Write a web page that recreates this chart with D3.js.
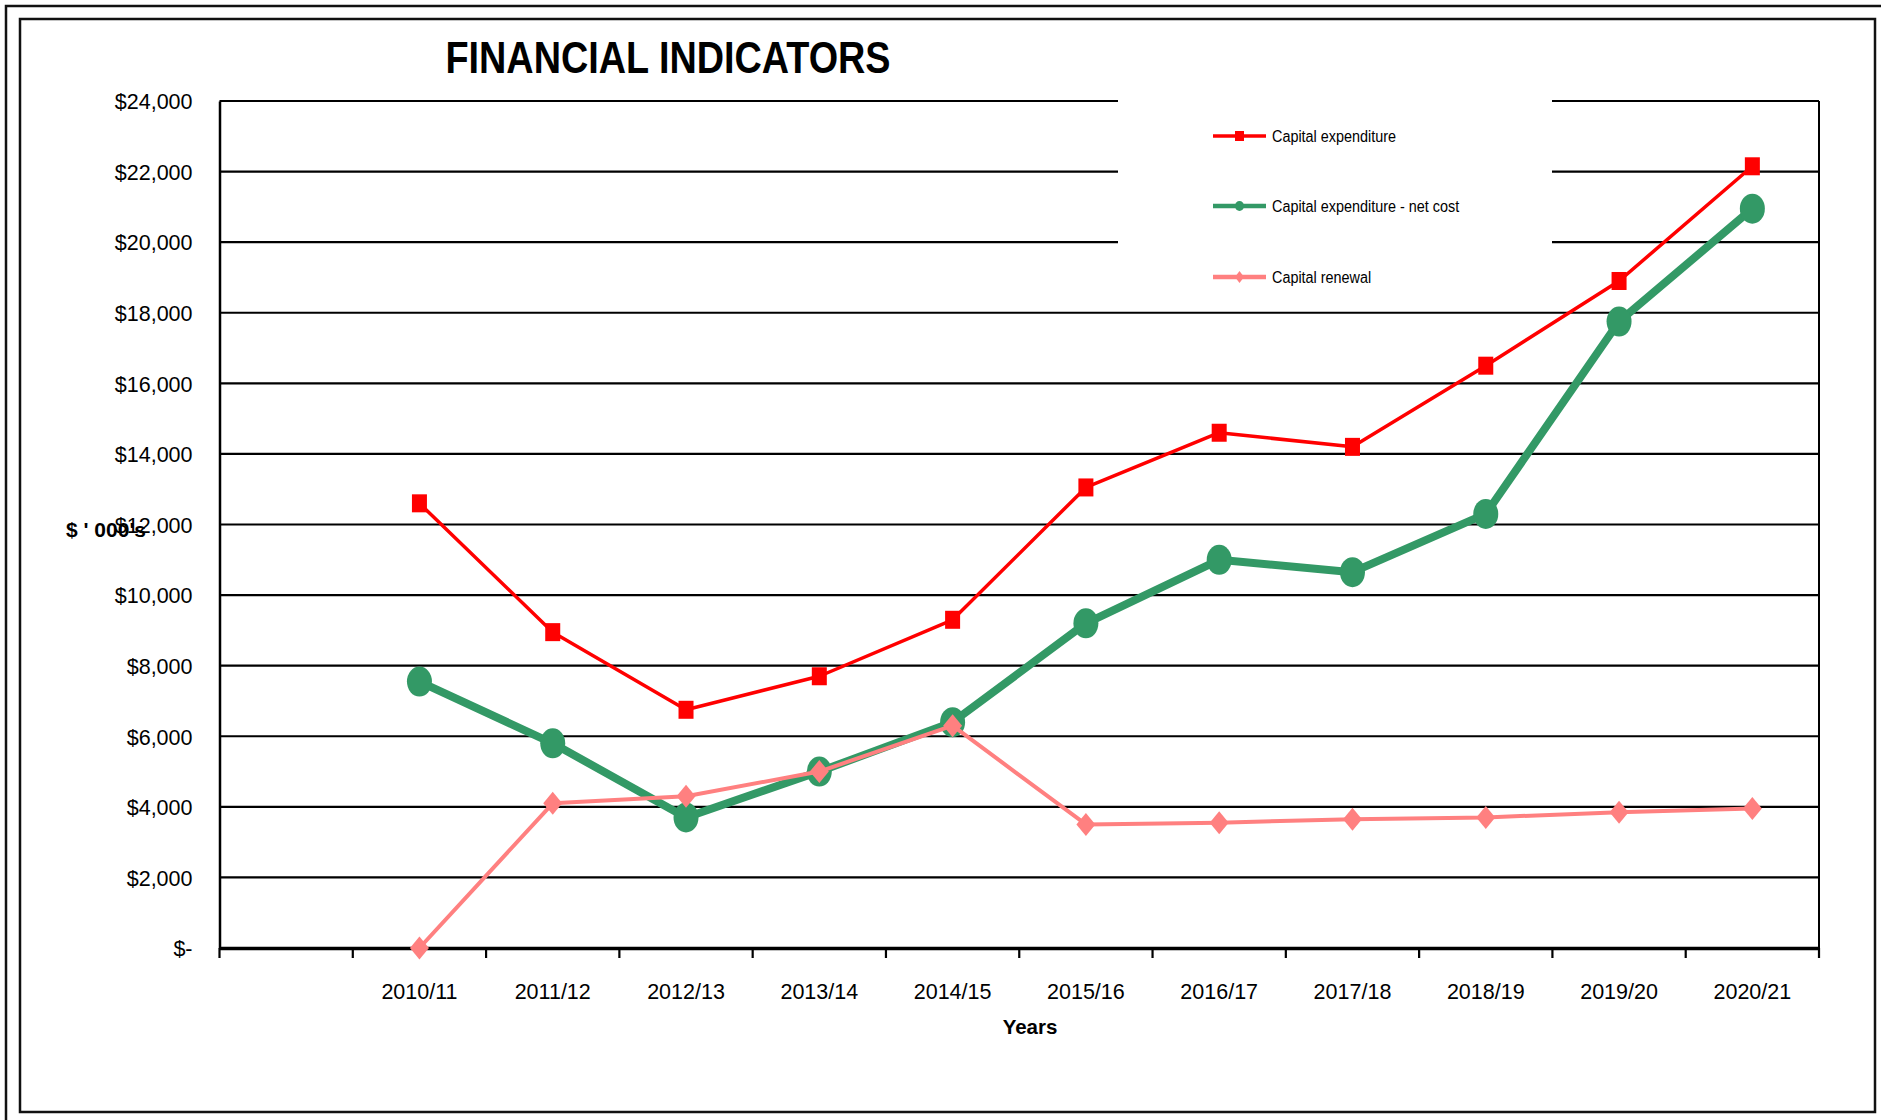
<!DOCTYPE html>
<html>
<head>
<meta charset="utf-8">
<script src="https://cdn.jsdelivr.net/npm/d3@7"></script>
<style>
  html, body { margin: 0; padding: 0; background: #fff; }
  svg { display: block; }
  text { font-family: "Liberation Sans", Arial, sans-serif; fill: #000; }
</style>
</head>
<body>
<svg id="chart" width="1881" height="1120"></svg>
<script>
// ---------- data ----------
const categories = ["", "2010/11", "2011/12", "2012/13", "2013/14", "2014/15", "2015/16", "2016/17", "2017/18", "2018/19", "2019/20", "2020/21"];
const years = ["2010/11", "2011/12", "2012/13", "2013/14", "2014/15", "2015/16", "2016/17", "2017/18", "2018/19", "2019/20", "2020/21"];
const capitalExpenditure = [12600, 8950, 6750, 7700, 9300, 13050, 14600, 14200, 16500, 18900, 22150];
const capitalNetCost = [7550, 5800, 3700, 5000, 6400, 9200, 11000, 10650, 12300, 17750, 20950];
const capitalRenewal = [0, 4100, 4300, 5000, 6300, 3500, 3550, 3650, 3700, 3850, 3950];
const yTickValues = [0, 2000, 4000, 6000, 8000, 10000, 12000, 14000, 16000, 18000, 20000, 22000, 24000];
const yTickLabels = ["$-", "$2,000", "$4,000", "$6,000", "$8,000", "$10,000", "$12,000", "$14,000", "$16,000", "$18,000", "$20,000", "$22,000", "$24,000"];
const seriesNames = ["Capital expenditure", "Capital expenditure - net cost", "Capital renewal"];
const seriesColors = ["#ff0000", "#339966", "#ff8080"];

// ---------- layout ----------
const svg = d3.select("#chart");
const plot = { left: 219.5, right: 1819, top: 101, bottom: 948 };

// frames
svg.append("rect").attr("x", 6).attr("y", 6).attr("width", 1900).attr("height", 1200)
  .attr("fill", "none").attr("stroke", "#111").attr("stroke-width", 2.5);
svg.append("rect").attr("x", 20).attr("y", 19).attr("width", 1855).attr("height", 1093)
  .attr("fill", "#fff").attr("stroke", "#111").attr("stroke-width", 2.5);

const x = d3.scaleBand().domain(categories).range([plot.left, plot.right]).padding(0);
const y = d3.scaleLinear().domain([0, 24000]).range([plot.bottom, plot.top]);
const cx = c => x(c) + x.bandwidth() / 2;

// gridlines
svg.append("g").selectAll("line").data(yTickValues.filter(v => v > 0)).join("line")
  .attr("x1", plot.left).attr("x2", plot.right)
  .attr("y1", d => y(d)).attr("y2", d => y(d))
  .attr("stroke", "#000").attr("stroke-width", 2.2);

// right edge of plot
svg.append("line").attr("x1", plot.right).attr("x2", plot.right)
  .attr("y1", plot.top).attr("y2", plot.bottom)
  .attr("stroke", "#000").attr("stroke-width", 2);

// legend box (white, covers gridlines)
const lg = svg.append("g");
lg.append("rect").attr("x", 1118).attr("y", 92).attr("width", 434).attr("height", 200).attr("fill", "#fff");

// y axis
const yAxis = d3.axisLeft(y).tickValues(yTickValues)
  .tickFormat((d, i) => yTickLabels[i]).tickSize(0).tickPadding(27);
const yg = svg.append("g").attr("transform", `translate(${plot.left},0)`).call(yAxis);
yg.select(".domain").attr("stroke", "#000").attr("stroke-width", 2.5);
yg.selectAll("text").attr("font-size", 21.5).attr("font-family", "Liberation Sans, Arial, sans-serif").attr("dy", "0.36em");

// x axis
const xAxis = d3.axisBottom(x).tickSize(0).tickPadding(36);
const xg = svg.append("g").attr("transform", `translate(0,${plot.bottom})`).call(xAxis);
xg.select(".domain").attr("stroke", "#000").attr("stroke-width", 3.5);
xg.selectAll("text").attr("font-size", 21.5).attr("font-family", "Liberation Sans, Arial, sans-serif");
// x tick marks at category boundaries
const boundaries = categories.map(c => x(c)).concat([plot.right]);
svg.append("g").selectAll("line").data(boundaries).join("line")
  .attr("x1", d => d).attr("x2", d => d)
  .attr("y1", plot.bottom).attr("y2", plot.bottom + 10)
  .attr("stroke", "#000").attr("stroke-width", 2.2);

// title & axis titles
svg.append("text").attr("transform", "translate(668,73) scale(1,1.15)").attr("text-anchor", "middle")
  .attr("font-size", 37.8).attr("font-weight", "bold").text("FINANCIAL INDICATORS");
svg.append("text").attr("x", 1030).attr("y", 1034).attr("text-anchor", "middle")
  .attr("font-size", 20.5).attr("font-weight", "bold").text("Years");
svg.append("text").attr("x", 66).attr("y", 537)
  .attr("font-size", 21).attr("font-weight", "bold").attr("xml:space", "preserve").text("$ ' 000's");

// ---------- series ----------
const line = d3.line().x(d => cx(d.c)).y(d => y(d.v));
const mk = arr => years.map((c, i) => ({ c, v: arr[i] }));

const sCap = mk(capitalExpenditure), sNet = mk(capitalNetCost), sRen = mk(capitalRenewal);

// red: capital expenditure
svg.append("path").datum(sCap).attr("d", line).attr("fill", "none")
  .attr("stroke", seriesColors[0]).attr("stroke-width", 3.5).attr("stroke-linejoin", "round");
svg.append("g").selectAll("rect").data(sCap).join("rect")
  .attr("x", d => cx(d.c) - 7.5).attr("y", d => y(d.v) - 9)
  .attr("width", 15).attr("height", 18).attr("fill", seriesColors[0]);

// green: net cost
svg.append("path").datum(sNet).attr("d", line).attr("fill", "none")
  .attr("stroke", seriesColors[1]).attr("stroke-width", 8).attr("stroke-linejoin", "round");
svg.append("g").selectAll("ellipse").data(sNet).join("ellipse")
  .attr("cx", d => cx(d.c)).attr("cy", d => y(d.v))
  .attr("rx", 12.5).attr("ry", 15).attr("fill", seriesColors[1]);

// pink: renewal
svg.append("path").datum(sRen).attr("d", line).attr("fill", "none")
  .attr("stroke", seriesColors[2]).attr("stroke-width", 4).attr("stroke-linejoin", "round");
const diamond = (px, py, w, h) => `M${px},${py - h}L${px + w},${py}L${px},${py + h}L${px - w},${py}Z`;
svg.append("g").selectAll("path").data(sRen).join("path")
  .attr("d", d => diamond(cx(d.c), y(d.v), 9.5, 11.5)).attr("fill", seriesColors[2]);

// ---------- legend ----------
const legendY = [136, 206, 277];
seriesNames.forEach((name, i) => {
  const ly = legendY[i];
  lg.append("line").attr("x1", 1213).attr("x2", 1266).attr("y1", ly).attr("y2", ly)
    .attr("stroke", seriesColors[i]).attr("stroke-width", i === 0 ? 3.5 : 4.5);
  if (i === 0) {
    lg.append("rect").attr("x", 1235).attr("y", ly - 5).attr("width", 9).attr("height", 10).attr("fill", seriesColors[i]);
  } else if (i === 1) {
    lg.append("ellipse").attr("cx", 1239.5).attr("cy", ly).attr("rx", 4.5).attr("ry", 5).attr("fill", seriesColors[i]);
  } else {
    lg.append("path").attr("d", diamond(1239.5, ly, 4.5, 6)).attr("fill", seriesColors[i]);
  }
  lg.append("text").attr("transform", `translate(1272,${ly + 6}) scale(1,1.2)`).attr("font-size", 14.4).text(name);
});
</script>
</body>
</html>
